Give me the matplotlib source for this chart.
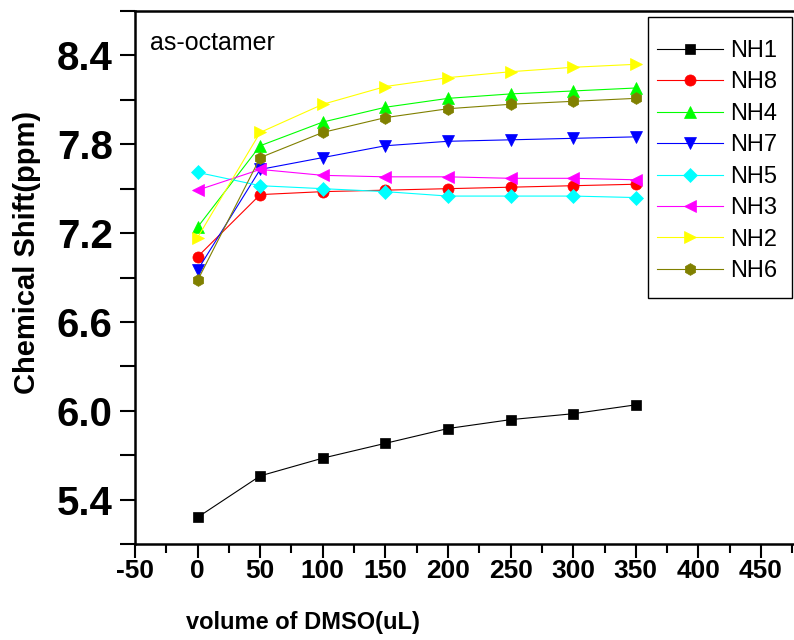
import numpy as np
import matplotlib.pyplot as plt
from matplotlib.ticker import MultipleLocator
from matplotlib.patches import Rectangle

# volume of DMSO added (uL)
volume = [0, 50, 100, 150, 200, 250, 300, 350]

# chemical shift (ppm) of each NH proton
nh1 = [5.28, 5.56, 5.68, 5.78, 5.88, 5.94, 5.98, 6.04]
nh8 = [7.04, 7.46, 7.48, 7.49, 7.50, 7.51, 7.52, 7.53]
nh4 = [7.24, 7.79, 7.95, 8.05, 8.11, 8.14, 8.16, 8.18]
nh7 = [6.95, 7.63, 7.71, 7.79, 7.82, 7.83, 7.84, 7.85]
nh5 = [7.61, 7.52, 7.50, 7.48, 7.45, 7.45, 7.45, 7.44]
nh3 = [7.49, 7.63, 7.59, 7.58, 7.58, 7.57, 7.57, 7.56]
nh2 = [7.17, 7.88, 8.07, 8.19, 8.25, 8.29, 8.32, 8.34]
nh6 = [6.88, 7.71, 7.88, 7.98, 8.04, 8.07, 8.09, 8.11]

names = ['NH1', 'NH8', 'NH4', 'NH7', 'NH5', 'NH3', 'NH2', 'NH6']
series = [nh1, nh8, nh4, nh7, nh5, nh3, nh2, nh6]
colors = ['black', 'red', '#00ff00', 'blue', 'cyan', 'magenta', 'yellow', '#808000']
markers = ['s', 'o', '^', 'v', 'D', '<', '>', 'h']
sizes = [7.5, 8, 9, 9, 7.5, 9, 9, 8.5]

plt.rcParams['font.family'] = ['Liberation Sans', 'DejaVu Sans']
plt.rcParams['axes.unicode_minus'] = False

fig = plt.figure(figsize=(7.94, 6.40), dpi=100)
ax = fig.add_axes([0.170, 0.15, 0.8358, 0.8328])

for y, name, c, m, s in zip(series, names, colors, markers, sizes):
    ax.plot(volume, y, color=c, marker=m, markersize=s, markeredgecolor=c,
            markeredgewidth=0.5, linewidth=0.8, label=name)

ax.set_xlim(-50, 480)
ax.set_ylim(5.1, 8.7)
ax.xaxis.set_major_locator(MultipleLocator(50))
ax.xaxis.set_minor_locator(MultipleLocator(25))
ax.yaxis.set_major_locator(MultipleLocator(0.6))
ax.yaxis.set_minor_locator(MultipleLocator(0.3))
ax.yaxis.set_major_formatter(plt.FormatStrFormatter('%.1f'))

for sp in ax.spines.values():
    sp.set_linewidth(1.8)
ax.tick_params(axis='x', which='major', direction='out', length=10, width=1.5, pad=1)
ax.tick_params(axis='x', which='minor', direction='out', length=6.5, width=1.5)
ax.tick_params(axis='y', which='major', direction='out', length=11, width=1.5, pad=5)
ax.tick_params(axis='y', which='minor', direction='out', length=11, width=1.5)
ax.tick_params(top=False, right=False, which='both')

for lab in ax.get_xticklabels():
    lab.set_fontweight('bold')
    lab.set_fontsize(19)
for lab in ax.get_yticklabels():
    lab.set_fontweight('bold')
    lab.set_fontsize(29)

fig.text(27 / 794, 0.605, 'Chemical Shift(ppm)', rotation=90, ha='center', va='center',
         fontsize=21, fontweight='bold')
fig.text(0.381, 0.028, 'volume of DMSO(uL)', ha='center', va='center',
         fontsize=17, fontweight='bold')
fig.text(150 / 794, 0.922, 'as-octamer', ha='left', va='baseline', fontsize=18)

# legend entries, with the box drawn separately (taller padding at top/bottom)
leg = ax.legend(loc='upper left', bbox_to_anchor=(657 / 794, 1 - 40 / 640),
                bbox_transform=fig.transFigure, borderaxespad=0, borderpad=0,
                fontsize=17, frameon=False, handlelength=2.8,
                labelspacing=0.40, handletextpad=0.3)
fig.patches.append(Rectangle((648 / 794, 1 - 298 / 640), 144 / 794, 281 / 640,
                             transform=fig.transFigure, fill=False,
                             edgecolor='black', linewidth=1.0, zorder=5))

fig.savefig('out.png', dpi=100)
